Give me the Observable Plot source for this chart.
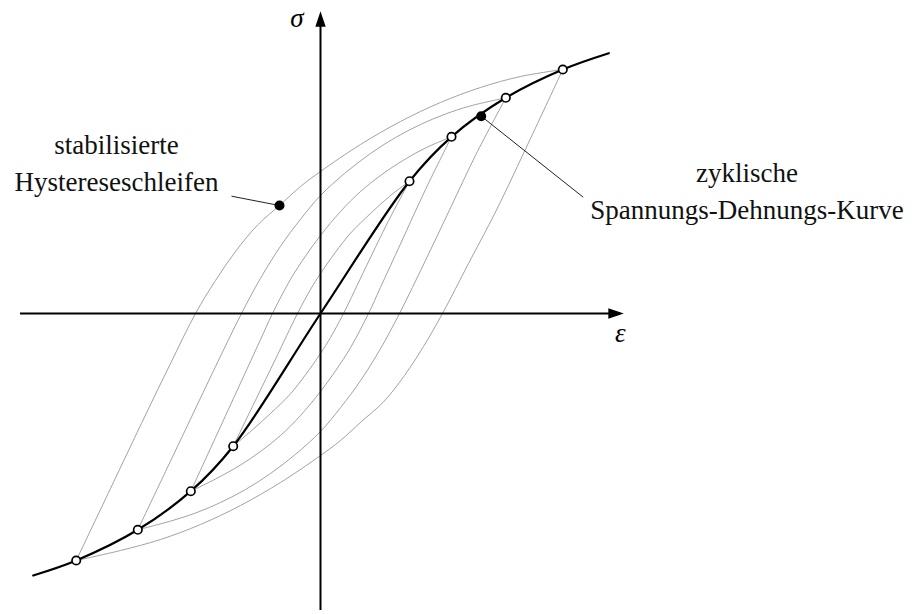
<!DOCTYPE html>
<html>
<head>
<meta charset="utf-8">
<script src="https://cdn.jsdelivr.net/npm/d3@7"></script>
<script src="https://cdn.jsdelivr.net/npm/@observablehq/plot@0.6"></script>
<style>
  body { margin: 0; background: #fff; }
</style>
</head>
<body>
<div id="chart"></div>
<script>
// Cyclic stress–strain curve (strain ε, stress σ in arbitrary units)
const cyclicEps = [-2.873, -2.443, -1.827, -1.297, -0.873, 0, 0.89, 1.31, 1.853, 2.423, 2.883];
const cyclicSig = [-2.62, -2.47, -2.163, -1.777, -1.327, 0, 1.323, 1.767, 2.157, 2.44, 2.603];

// Reversal points of the stabilised loops (all lie on the cyclic curve)
const reversalEps = [0.89, 1.31, 1.853, 2.423, -0.873, -1.297, -1.827, -2.443];
const reversalSig = [1.323, 1.767, 2.157, 2.44, -1.327, -1.777, -2.163, -2.47];

// Stabilised hysteresis loops: loading branch (lower to upper reversal)
// and unloading branch (upper to lower reversal), as [ε, σ] pairs
const loop1Up = [[-0.873, -1.327], [-0.65, -0.868], [-0.45, -0.456], [-0.23, 0], [-0.10, 0.24], [0, 0.40], [0.15, 0.613], [0.30, 0.803], [0.50, 1.0], [0.70, 1.18], [0.89, 1.323]];
const loop1Down = [[0.89, 1.323], [0.65, 0.868], [0.45, 0.456], [0.23, 0], [0.10, -0.24], [0, -0.40], [-0.15, -0.613], [-0.30, -0.803], [-0.50, -1.0], [-0.70, -1.18], [-0.873, -1.327]];

const loop2Up = [[-1.297, -1.777], [-1.05, -1.24], [-0.80, -0.696], [-0.60, -0.261], [-0.48, 0], [-0.30, 0.342], [-0.15, 0.574], [0, 0.78], [0.20, 1.02], [0.40, 1.22], [0.60, 1.38], [0.80, 1.515], [1.05, 1.655], [1.31, 1.767]];
const loop2Down = [[1.31, 1.767], [1.05, 1.24], [0.80, 0.696], [0.60, 0.261], [0.48, 0], [0.30, -0.342], [0.15, -0.574], [0, -0.78], [-0.20, -1.02], [-0.40, -1.22], [-0.60, -1.38], [-0.80, -1.515], [-1.05, -1.655], [-1.297, -1.777]];

const loop3Up = [[-1.827, -2.163], [-1.55, -1.581], [-1.30, -1.056], [-1.05, -0.531], [-0.79, 0], [-0.60, 0.352], [-0.40, 0.672], [-0.20, 0.942], [0, 1.18], [0.25, 1.408], [0.50, 1.60], [0.75, 1.76], [1.00, 1.89], [1.25, 1.995], [1.50, 2.076], [1.853, 2.157]];
const loop3Down = [[1.853, 2.157], [1.55, 1.581], [1.30, 1.056], [1.05, 0.531], [0.79, 0], [0.60, -0.352], [0.40, -0.672], [0.20, -0.942], [0, -1.18], [-0.25, -1.408], [-0.50, -1.60], [-0.75, -1.76], [-1.00, -1.89], [-1.25, -1.995], [-1.50, -2.076], [-1.827, -2.163]];

const loop4Up = [[-2.443, -2.47], [-2.10, -1.75], [-1.75, -1.015], [-1.50, -0.50], [-1.25, 0], [-1.05, 0.33], [-0.85, 0.62], [-0.63, 0.884], [-0.41, 1.08], [-0.20, 1.27], [0, 1.42], [0.40, 1.69], [0.80, 1.92], [1.20, 2.11], [1.60, 2.26], [2.00, 2.37], [2.423, 2.44]];
const loop4Down = [[2.423, 2.44], [2.10, 1.75], [1.75, 1.015], [1.48, 0.50], [1.22, 0], [1.03, -0.33], [0.84, -0.62], [0.63, -0.884], [0.41, -1.08], [0.20, -1.27], [0, -1.42], [-0.40, -1.69], [-0.80, -1.92], [-1.20, -2.11], [-1.60, -2.26], [-2.00, -2.37], [-2.443, -2.47]];

// Annotations: highlighted points and the far ends of their leader lines
const loopNoteEps = [-0.41], loopNoteSig = [1.08];       // point on the outer loop
const loopNoteFromEps = [-0.89], loopNoteFromSig = [1.173];
const curveNoteEps = [1.607], curveNoteSig = [1.973];    // point on the cyclic curve
const curveNoteToEps = [2.627], curveNoteToSig = [1.163];

const labelLoops = ["stabilisierte", "Hystereseschleifen"];
const labelCurve = ["zyklische", "Spannungs-Dehnungs-Kurve"];
const axisLabels = ["σ", "ε"];

// ---- tables built from the arrays above
const branches = [
  ["1u", loop1Up], ["1d", loop1Down], ["2u", loop2Up], ["2d", loop2Down],
  ["3u", loop3Up], ["3d", loop3Down], ["4u", loop4Up], ["4d", loop4Down]
].flatMap(([id, pts]) => pts.map(([e, s]) => ({id, e, s})));
const cyclic = cyclicEps.map((e, i) => ({e, s: cyclicSig[i]}));
const reversals = reversalEps.map((e, i) => ({e, s: reversalSig[i]}));
const leaders = [
  {x1: loopNoteFromEps[0], y1: loopNoteFromSig[0], x2: loopNoteEps[0], y2: loopNoteSig[0]},
  {x1: curveNoteEps[0], y1: curveNoteSig[0], x2: curveNoteToEps[0], y2: curveNoteToSig[0]}
];
const notes = [
  {e: loopNoteEps[0], s: loopNoteSig[0]},
  {e: curveNoteEps[0], s: curveNoteSig[0]}
];

// filled arrowheads whose tip sits on the anchor point
const headUp = {draw(ctx) { ctx.moveTo(0, 0); ctx.lineTo(5.2, 15.5); ctx.lineTo(-5.2, 15.5); ctx.closePath(); }};
const headRight = {draw(ctx) { ctx.moveTo(0, 0); ctx.lineTo(-15.5, -5.2); ctx.lineTo(-15.5, 5.2); ctx.closePath(); }};

const serif = "Liberation Serif";
const textSize = 27;

const chart = Plot.plot({
  width: 916,
  height: 614,
  margin: 0,
  x: {domain: [-3.2, 5.96], axis: null},
  y: {domain: [-3.01, 3.13], axis: null},
  marks: [
    // hysteresis loops
    Plot.line(branches, {x: "e", y: "s", z: "id", curve: "catmull-rom", stroke: "#8a8a8a", strokeWidth: 0.8}),
    // axes
    Plot.ruleY([0], {x1: -3.0, x2: 2.9, stroke: "black", strokeWidth: 2}),
    Plot.ruleX([0], {y1: -2.97, y2: 2.9, stroke: "black", strokeWidth: 2}),
    Plot.dot([{e: 3.033, s: 0}], {x: "e", y: "s", symbol: headRight, fill: "black", stroke: "none"}),
    Plot.dot([{e: 0, s: 3.023}], {x: "e", y: "s", symbol: headUp, fill: "black", stroke: "none"}),
    // cyclic stress–strain curve
    Plot.line(cyclic, {x: "e", y: "s", curve: "catmull-rom", stroke: "black", strokeWidth: 2.2}),
    // leader lines
    Plot.link(leaders, {x1: "x1", y1: "y1", x2: "x2", y2: "y2", stroke: "#222", strokeWidth: 1}),
    // reversal points and highlighted points
    Plot.dot(reversals, {x: "e", y: "s", r: 4.2, fill: "white", stroke: "black", strokeWidth: 1.7}),
    Plot.dot(notes, {x: "e", y: "s", r: 5, fill: "black", stroke: "none"}),
    // axis labels
    Plot.text([axisLabels[0]], {x: -0.235, y: 2.87, text: d => d, fontFamily: serif, fontStyle: "italic", fontSize: 27, textAnchor: "middle", lineAnchor: "bottom"}),
    Plot.text([axisLabels[1]], {x: 2.997, y: -0.287, text: d => d, fontFamily: serif, fontStyle: "italic", fontSize: 27, textAnchor: "middle", lineAnchor: "bottom"}),
    // annotations
    Plot.text(labelLoops, {x: -2.04, y: (d, i) => [1.597, 1.23][i], text: d => d, fontFamily: serif, fontSize: textSize, textAnchor: "middle", lineAnchor: "bottom", fill: "#111"}),
    Plot.text(labelCurve, {x: 4.265, y: (d, i) => [1.313, 0.947][i], text: d => d, fontFamily: serif, fontSize: textSize, textAnchor: "middle", lineAnchor: "bottom", fill: "#111"})
  ]
});

document.getElementById("chart").appendChild(chart);
</script>
</body>
</html>
